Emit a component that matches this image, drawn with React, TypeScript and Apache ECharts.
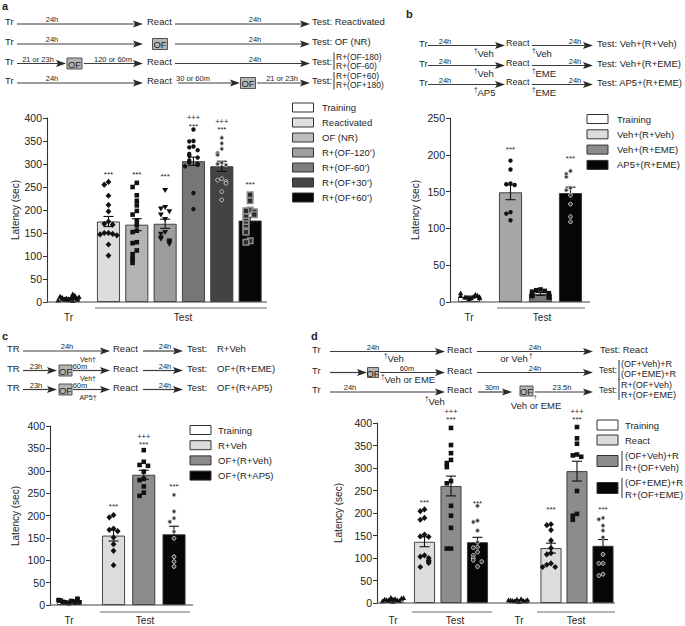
import React, { useEffect, useRef } from "react";
import * as echarts from "echarts";

const FONT = "'Liberation Sans', Arial, Helvetica, sans-serif";
const INK = "#1e1e1e";

// ================= Panel a data =================
const aTrCategory = ["Tr"];
const aTrMean = [8];
const aTrSem = [1.2];
const aTrPoints = [[4, 6, 9, 12, 17, 8, 5, 10, 7, 14, 11, 3, 6, 9, 13, 8, 5, 2, 7, 10]];
const aTestCategories = ["Reactivated", "OF (NR)", "R+(OF-120’)", "R+(OF-60’)", "R+(OF+30’)", "R+(OF+60’)"];
const aTestMeans = [175, 168, 170, 306, 295, 177];
const aTestSems = [11, 13, 10, 9, 11, 7];
const aTestPoints = [
  [261, 255, 231, 211, 197, 175, 170, 168, 150, 150, 148, 147, 145, 125, 101],
  [259, 250, 232, 220, 210, 198, 190, 177, 167, 155, 152, 130, 128, 112, 104, 95, 92, 85],
  [243, 206, 203, 197, 190, 180, 152, 148, 140, 137, 133, 130, 126],
  [375, 350, 349, 338, 336, 330, 322, 318, 314, 308, 303, 300, 298, 295, 237, 202],
  [357, 345, 333, 324, 320, 303, 300, 298, 268, 265, 262, 258, 240, 222],
  [233, 220, 200, 198, 196, 190, 185, 176, 170, 163, 155, 152, 133, 130],
];
const aStars = ["***", "***", "***", "***", "***", "***"];
const aPluses = ["", "", "", "+++", "+++", ""];
const aStarsAt = [280, 280, 277, 385, 378, 258];
const aLegendLabels = ["Training", ...aTestCategories];

// ================= Panel b data =================
const bTrCategory = ["Tr"];
const bTrMean = [7];
const bTrSem = [1];
const bTrPoints = [[4, 6, 7, 8, 9, 12, 6, 5, 8, 10, 7, 5]];
const bTestCategories = ["Veh+(R+Veh)", "Veh+(R+EME)", "AP5+(R+EME)"];
const bTestMeans = [149, 11, 148];
const bTestSems = [10, 2, 8];
const bTestPoints = [
  [192, 180, 161, 160, 159, 122, 120, 111],
  [17, 16, 15, 14, 12, 10, 9, 8, 7, 6],
  [178, 174, 170, 155, 152, 145, 133, 116, 109],
];
const bStars = ["***", "", "***"];
const bPluses = ["", "", ""];
const bStarsAt = [209, 0, 197];
const bLegendLabels = ["Training", ...bTestCategories];

// ================= Panel c data =================
const cTrCategory = ["Tr"];
const cTrMean = [8];
const cTrSem = [1];
const cTrPoints = [[4, 6, 8, 10, 12, 14, 9, 7, 5, 11, 6]];
const cTestCategories = ["R+Veh", "OF+(R+Veh)", "OF+(R+AP5)"];
const cTestMeans = [155, 291, 158];
const cTestSems = [12, 10, 18];
const cTestPoints = [
  [201, 196, 171, 168, 165, 151, 136, 121, 89],
  [346, 320, 313, 311, 298, 282, 279, 265, 251, 244],
  [246, 209, 194, 186, 164, 149, 108, 97, 86],
];
const cStars = ["***", "***", "***"];
const cPluses = ["", "+++", ""];
const cStarsAt = [223, 362, 268];
const cLegendLabels = ["Training", ...cTestCategories];

// ================= Panel d data =================
const dTrCategory = ["Tr"];
const dTr1Mean = [7];
const dTr1Sem = [1];
const dTr1Points = [[3, 5, 6, 8, 10, 12, 9, 7, 5, 4, 11, 8, 6]];
const dTr2Mean = [6];
const dTr2Sem = [1];
const dTr2Points = [[2, 4, 5, 6, 7, 8, 9, 5, 4, 6]];
const dTestCategories = ["React", "OF+Veh", "OF+EME"];
const dTest1Means = [136, 260, 135];
const dTest1Sems = [11, 22, 11];
const dTest1Points = [
  [208, 204, 189, 185, 152, 148, 147, 106, 103, 100, 95, 93, 89, 80],
  [389, 351, 333, 318, 311, 302, 271, 266, 216, 194, 167, 121, 121],
  [216, 183, 180, 161, 135, 124, 123, 113, 106, 100, 95, 92, 81],
];
const dTest2Means = [122, 293, 127];
const dTest2Sems = [11, 22, 14];
const dTest2Points = [
  [175, 173, 162, 139, 122, 111, 108, 88, 85, 80, 80],
  [391, 366, 354, 330, 328, 325, 249, 198, 194, 185],
  [189, 186, 172, 161, 146, 108, 88, 88, 64, 61],
];
const dStars1 = ["***", "***", "***"];
const dPluses1 = ["", "+++", ""];
const dStarsAt1 = [227, 411, 225];
const dStars2 = ["***", "***", "***"];
const dPluses2 = ["", "+++", ""];
const dStarsAt2 = [211, 411, 211];
const dLegendLabels: (string | string[])[] = ["Training", "React", ["(OF+Veh)+R", "R+(OF+Veh)"], ["(OF+EME)+R", "R+(OF+EME)"]];

// ================= styles =================
const WHITE = "#ffffff";
const aBarColors = ["#dddddd", "#b3b3b3", "#9c9c9c", "#767676", "#434343", "#070707"];
const aLegendColors = ["#ffffff", "#e0e0e0", "#bdbdbd", "#a0a0a0", "#7d7d7d", "#474747", "#080808"];
const aMarkers = ["diamond", "square", "triDown", "circle", "ring", "graySquare"];
const bBarColors = ["#a6a6a6", "#7a7a7a", "#060606"];
const bLegendColors = ["#ffffff", "#dcdcdc", "#8c8c8c", "#060606"];
const bMarkers = ["circle", "square", "ring"];
const cBarColors = ["#dcdcdc", "#8c8c8c", "#060606"];
const cLegendColors = ["#ffffff", "#dcdcdc", "#8c8c8c", "#060606"];
const cMarkers = ["diamond", "square", "ring"];
const dBarColors = ["#dcdcdc", "#8c8c8c", "#060606"];
const dLegendColors = ["#ffffff", "#dcdcdc", "#8c8c8c", "#060606"];
const dMarkers = ["diamond", "square", "ring"];

// ================= helpers =================
function jitterIndex(vals: number[], thr: number): number[] {
  const pattern = [0, -1, 1, -2, 2, -0.5, 0.5, -1.5, 1.5, -2.5, 2.5];
  return vals.map((v, i) => {
    let k = 0;
    for (let j = 0; j < i; j++) if (Math.abs(vals[j] - v) < thr) k++;
    return pattern[k % pattern.length];
  });
}

function marker(kind: string, x: number, y: number): any {
  const k = "#111";
  switch (kind) {
    case "diamond":
      return { type: "polygon", shape: { points: [[x, y - 3.1], [x + 2.9, y], [x, y + 3.1], [x - 2.9, y]] }, style: { fill: k } };
    case "square":
      return { type: "rect", shape: { x: x - 2.3, y: y - 2.3, width: 4.6, height: 4.6 }, style: { fill: k } };
    case "triDown":
      return { type: "polygon", shape: { points: [[x - 3, y - 2.2], [x + 3, y - 2.2], [x, y + 2.8]] }, style: { fill: k } };
    case "tri":
      return { type: "polygon", shape: { points: [[x - 2.7, y + 2], [x + 2.7, y + 2], [x, y - 2.7]] }, style: { fill: k } };
    case "circle":
      return { type: "circle", shape: { cx: x, cy: y, r: 2.2 }, style: { fill: k } };
    case "ring":
      return { type: "circle", shape: { cx: x, cy: y, r: 1.9 }, style: { fill: "#3a3a3a", stroke: "#c8c8c8", lineWidth: 1 } };
    case "graySquare":
    default:
      return { type: "rect", shape: { x: x - 2.8, y: y - 2.8, width: 5.6, height: 5.6 }, style: { fill: "#2a2a2a", stroke: "#8c8c8c", lineWidth: 1.5 } };
  }
}

function txt(x: number, y: number, text: string, o: any = {}): any {
  const align = o.align ?? "left";
  return {
    type: "text",
    x,
    y,
    rotation: o.rotation ?? 0,
    z: 20,
    silent: true,
    style: {
      text,
      fill: o.color ?? INK,
      fontSize: o.size ?? 9.5,
      fontFamily: FONT,
      fontWeight: o.bold ? "bold" : "normal",
      align,
      verticalAlign: "middle",
      textAlign: align,
      textVerticalAlign: "middle",
    },
  };
}

function hline(x1: number, x2: number, y: number, stroke = "#444", lw = 1.2): any {
  return { type: "line", z: 15, silent: true, shape: { x1, y1: y, x2, y2: y }, style: { stroke, lineWidth: lw } };
}
function vline(x: number, y1: number, y2: number, stroke = "#333", lw = 1): any {
  return { type: "line", z: 15, silent: true, shape: { x1: x, y1, x2: x, y2 }, style: { stroke, lineWidth: lw } };
}

function arrow(x1: number, x2: number, y: number, label?: string, lx?: number): any[] {
  const els: any[] = [
    hline(x1, x2 - 8, y, "#3c3c3c", 1.2),
    { type: "polygon", z: 15, silent: true, shape: { points: [[x2 - 10, y - 3.6], [x2, y], [x2 - 10, y + 3.6], [x2 - 8, y]] }, style: { fill: "#2a2a2a" } },
  ];
  if (label) els.push(txt(lx ?? (x1 + x2) / 2, y - 4.5, label, { size: 7.5, align: "center" }));
  return els;
}

function ofBox(cx: number, cy: number, w = 15, h = 11): any[] {
  return [
    { type: "rect", z: 15, silent: true, shape: { x: cx - w / 2, y: cy - h / 2, width: w, height: h }, style: { fill: "#b4b4b4", stroke: "#555", lineWidth: 1 } },
    txt(cx, cy + 0.5, "OF", { size: 9.5, align: "center" }),
  ];
}

function dagger(x: number, y: number, label: string, size = 9.5): any[] {
  return [txt(x, y - 3, "†", { size: 6.5 }), txt(x + 3.5, y, label, { size })];
}

function legendSimple(x: number, y0: number, step: number, labels: string[], colors: string[], tx: number, bh = 9): any[] {
  const els: any[] = [];
  labels.forEach((l, i) => {
    const y = y0 + i * step;
    els.push({ type: "rect", z: 15, silent: true, shape: { x, y: y - bh / 2, width: 21, height: bh }, style: { fill: colors[i], stroke: "#333", lineWidth: 1 } });
    els.push(txt(tx, y, l, { size: 9.5 }));
  });
  return els;
}

interface Section {
  left: number;
  width: number;
  barWidth: number;
  cats: string[];
  means: number[];
  sems: number[];
  pts: number[][];
  colors: string[];
  markers: string[];
  stars?: string[];
  pluses?: string[];
  starsAt?: number[];
}

function addPanel(opt: any, top: number, bottom: number, yMax: number, yStep: number, sections: Section[]) {
  const thr = (yMax * 4.2) / (bottom - top);
  sections.forEach((s, si) => {
    const gi = opt.grid.length;
    opt.grid.push({ left: s.left, top, width: s.width, height: bottom - top });
    opt.xAxis.push({ type: "category", gridIndex: gi, data: s.cats, show: false });
    opt.yAxis.push({
      type: "value",
      gridIndex: gi,
      min: 0,
      max: yMax,
      interval: yStep,
      show: si === 0,
      axisLine: { show: true, lineStyle: { color: "#333", width: 1.1 } },
      axisTick: { show: true, length: 4, lineStyle: { color: "#333", width: 1 } },
      axisLabel: { fontSize: 10.5, color: "#222", margin: 5, fontFamily: FONT },
      splitLine: { show: false },
    });
    opt.series.push({
      type: "bar",
      xAxisIndex: gi,
      yAxisIndex: gi,
      barWidth: s.barWidth,
      silent: true,
      z: 2,
      data: s.means.map((m, i) => ({ value: m, itemStyle: { color: s.colors[i], borderColor: "#333", borderWidth: 0.9 } })),
    });
    opt.series.push({
      type: "custom",
      xAxisIndex: gi,
      yAxisIndex: gi,
      clip: false,
      silent: true,
      z: 3,
      data: s.means.map((m, i) => [i, m, s.sems[i]]),
      renderItem: (_p: any, api: any) => {
        const i = api.value(0);
        const m = api.value(1);
        const e = api.value(2);
        const t = api.coord([i, m + e]);
        const b = api.coord([i, m - e]);
        const hw = 5;
        const st = { stroke: "#111", lineWidth: 1.1 };
        return {
          type: "group",
          children: [
            { type: "line", shape: { x1: t[0], y1: t[1], x2: b[0], y2: b[1] }, style: st },
            { type: "line", shape: { x1: t[0] - hw, y1: t[1], x2: t[0] + hw, y2: t[1] }, style: st },
            { type: "line", shape: { x1: b[0] - hw, y1: b[1], x2: b[0] + hw, y2: b[1] }, style: st },
          ],
        };
      },
    });
    const pdata: number[][] = [];
    s.pts.forEach((arr, i) => {
      const jit = jitterIndex(arr, thr);
      arr.forEach((v, k) => pdata.push([i, v, jit[k]]));
    });
    opt.series.push({
      type: "custom",
      xAxisIndex: gi,
      yAxisIndex: gi,
      clip: false,
      silent: true,
      z: 4,
      data: pdata,
      renderItem: (_p: any, api: any) => {
        const i = api.value(0);
        const c = api.coord([i, api.value(1)]);
        return marker(s.markers[i], c[0] + api.value(2) * 4.2, c[1]);
      },
    });
    if (s.stars && s.starsAt) {
      const sd: number[][] = [];
      s.stars.forEach((st, i) => {
        if (st) sd.push([i, s.starsAt![i]]);
      });
      opt.series.push({
        type: "custom",
        xAxisIndex: gi,
        yAxisIndex: gi,
        clip: false,
        silent: true,
        z: 5,
        data: sd,
        renderItem: (_p: any, api: any) => {
          const i = api.value(0);
          const c = api.coord([i, api.value(1)]);
          const mk = (t: string, y: number, size: number) => ({
            type: "text",
            x: c[0],
            y,
            style: { text: t, fill: INK, fontSize: size, fontFamily: FONT, align: "center", verticalAlign: "middle", textAlign: "center", textVerticalAlign: "middle" },
          });
          const ch: any[] = [mk(s.stars![i], c[1] + 1.5, 8)];
          if (s.pluses && s.pluses[i]) ch.push(mk(s.pluses[i], c[1] - 7, 7.5));
          return { type: "group", children: ch };
        },
      });
    }
  });
}

function buildOption() {
  const opt: any = { animation: false, grid: [], xAxis: [], yAxis: [], series: [], graphic: { elements: [] } };
  const G: any[] = opt.graphic.elements;

  // ---------- Panel a ----------
  addPanel(opt, 118, 302, 400, 50, [
    { left: 47, width: 43, barWidth: 23, cats: aTrCategory, means: aTrMean, sems: aTrSem, pts: aTrPoints, colors: [WHITE], markers: ["tri"] },
    {
      left: 94.3, width: 170, barWidth: 23, cats: aTestCategories, means: aTestMeans, sems: aTestSems, pts: aTestPoints,
      colors: aBarColors, markers: aMarkers, stars: aStars, pluses: aPluses, starsAt: aStarsAt,
    },
  ]);
  G.push(hline(47, 267, 302, "#444", 1.2));
  G.push(hline(95, 267, 308, "#9a9a9a", 1.6));
  G.push(txt(68.5, 317, "Tr", { size: 10, align: "center" }));
  G.push(txt(183, 317, "Test", { size: 10, align: "center" }));
  G.push(txt(15, 210, "Latency (sec)", { size: 10, align: "center", rotation: Math.PI / 2 }));
  G.push(...legendSimple(292.5, 107.5, 15, aLegendLabels, aLegendColors, 322));

  // schematic a
  G.push(txt(2, 6, "a", { size: 11, bold: true }));
  const aRows = [24, 44, 63.5, 83];
  aRows.forEach((ly) => G.push(txt(5, ly - 2.5, "Tr")));
  // row 1
  G.push(...arrow(17, 143, aRows[0], "24h", 52));
  G.push(txt(147, aRows[0] - 2.5, "React"));
  G.push(...arrow(175, 310, aRows[0], "24h", 255));
  G.push(txt(312, aRows[0] - 2.5, "Test: Reactivated"));
  // row 2
  G.push(...arrow(17, 143, aRows[1], "24h", 52));
  G.push(...ofBox(160, aRows[1]));
  G.push(...arrow(175, 310, aRows[1], "24h", 255));
  G.push(txt(312, aRows[1] - 2.5, "Test: OF (NR)"));
  // row 3
  G.push(...arrow(17, 66, aRows[2], "21 or 23h", 38));
  G.push(...ofBox(74.5, aRows[2]));
  G.push(...arrow(84, 143, aRows[2], "120 or 60m", 113));
  G.push(txt(147, aRows[2] - 2.5, "React"));
  G.push(...arrow(175, 310, aRows[2], "24h", 255));
  G.push(txt(312, aRows[2] - 2.5, "Test:"));
  G.push(vline(334, aRows[2] - 11, aRows[2] + 6.5));
  G.push(txt(336, aRows[2] - 6.8, "R+(OF-180)", { size: 8.5 }));
  G.push(txt(336, aRows[2] + 2.4, "R+(OF-60)", { size: 8.5 }));
  // row 4
  G.push(...arrow(17, 143, aRows[3], "24h", 52));
  G.push(txt(147, aRows[3] - 2.5, "React"));
  G.push(...arrow(178, 240, aRows[3], "30 or 60m", 193));
  G.push(...ofBox(248, aRows[3]));
  G.push(...arrow(257, 310, aRows[3], "21 or 23h", 282));
  G.push(txt(312, aRows[3] - 2.5, "Test:"));
  G.push(vline(334, aRows[3] - 11, aRows[3] + 6.5));
  G.push(txt(336, aRows[3] - 6.8, "R+(OF+60)", { size: 8.5 }));
  G.push(txt(336, aRows[3] + 2.4, "R+(OF+180)", { size: 8.5 }));

  // ---------- Panel b ----------
  addPanel(opt, 118, 302, 250, 50, [
    { left: 450, width: 38, barWidth: 22, cats: bTrCategory, means: bTrMean, sems: bTrSem, pts: bTrPoints, colors: [WHITE], markers: ["tri"] },
    {
      left: 495.5, width: 90, barWidth: 23, cats: bTestCategories, means: bTestMeans, sems: bTestSems, pts: bTestPoints,
      colors: bBarColors, markers: bMarkers, stars: bStars, pluses: bPluses, starsAt: bStarsAt,
    },
  ]);
  G.push(hline(450, 590, 302, "#444", 1.2));
  G.push(hline(497, 585, 308, "#9a9a9a", 1.6));
  G.push(txt(469, 317, "Tr", { size: 10, align: "center" }));
  G.push(txt(542, 317, "Test", { size: 10, align: "center" }));
  G.push(txt(415, 210, "Latency (sec)", { size: 10, align: "center", rotation: Math.PI / 2 }));
  G.push(...legendSimple(587, 119, 15.3, bLegendLabels, bLegendColors, 617));

  G.push(txt(406, 14, "b", { size: 11, bold: true }));
  const bRows = [45.5, 65.5, 84.5];
  const bTests = ["Test: Veh+(R+Veh)", "Test: Veh+(R+EME)", "Test: AP5+(R+EME)"];
  const bPre = ["Veh", "Veh", "AP5"];
  const bPost = ["Veh", "EME", "EME"];
  bRows.forEach((ly, r) => {
    G.push(txt(419, ly - 2.5, "Tr"));
    G.push(...arrow(428, 505, ly, "24h", 445));
    G.push(txt(506, ly - 2.5, "React", { size: 9 }));
    G.push(...arrow(532, 593, ly, "24h", 575));
    G.push(txt(597, ly - 2.5, bTests[r]));
    G.push(...dagger(474, ly + 7.5, bPre[r]));
    G.push(...dagger(532, ly + 8, bPost[r]));
  });

  // ---------- Panel c ----------
  addPanel(opt, 426, 605, 400, 50, [
    { left: 50, width: 38, barWidth: 24, cats: cTrCategory, means: cTrMean, sems: cTrSem, pts: cTrPoints, colors: [WHITE], markers: ["square"] },
    {
      left: 98.4, width: 90.75, barWidth: 23, cats: cTestCategories, means: cTestMeans, sems: cTestSems, pts: cTestPoints,
      colors: cBarColors, markers: cMarkers, stars: cStars, pluses: cPluses, starsAt: cStarsAt,
    },
  ]);
  G.push(hline(50, 193, 605, "#444", 1.2));
  G.push(hline(100, 190, 612, "#9a9a9a", 1.6));
  G.push(txt(69, 620, "Tr", { size: 10, align: "center" }));
  G.push(txt(145, 620, "Test", { size: 10, align: "center" }));
  G.push(txt(15, 516, "Latency (sec)", { size: 10, align: "center", rotation: Math.PI / 2 }));
  G.push(...legendSimple(190, 430, 15.2, cLegendLabels, cLegendColors, 218));

  G.push(txt(2, 336, "c", { size: 11, bold: true }));
  const cRows = [351, 370.5, 389.5];
  const cTests = ["R+Veh", "OF+(R+EME)", "OF+(R+AP5)"];
  cRows.forEach((ly, r) => {
    G.push(txt(7, ly - 2.5, "TR"));
    if (r === 0) {
      G.push(...arrow(23, 110, ly, "24h", 67));
    } else {
      G.push(...arrow(23, 57, ly, "23h", 36));
      G.push(...ofBox(65.5, ly, 13, 11));
      G.push(...arrow(73, 110, ly, "60m", 80));
    }
    G.push(txt(113, ly - 2.5, "React"));
    G.push(...arrow(143, 183, ly, "24h", 165));
    G.push(txt(187, ly - 2.5, "Test:"));
    G.push(txt(217, ly - 2.5, cTests[r]));
  });
  G.push(txt(88, 359, "Veh†", { size: 7, align: "center" }));
  G.push(txt(88, 378.5, "Veh†", { size: 7, align: "center" }));
  G.push(txt(88, 397.5, "AP5†", { size: 7, align: "center" }));

  // ---------- Panel d ----------
  addPanel(opt, 423, 603, 400, 50, [
    { left: 377, width: 32, barWidth: 21, cats: dTrCategory, means: dTr1Mean, sems: dTr1Sem, pts: dTr1Points, colors: [WHITE], markers: ["tri"] },
    {
      left: 411.25, width: 79.5, barWidth: 21, cats: dTestCategories, means: dTest1Means, sems: dTest1Sems, pts: dTest1Points,
      colors: dBarColors, markers: dMarkers, stars: dStars1, pluses: dPluses1, starsAt: dStarsAt1,
    },
    { left: 503, width: 32, barWidth: 21, cats: dTrCategory, means: dTr2Mean, sems: dTr2Sem, pts: dTr2Points, colors: [WHITE], markers: ["tri"] },
    {
      left: 538, width: 78, barWidth: 21, cats: dTestCategories, means: dTest2Means, sems: dTest2Sems, pts: dTest2Points,
      colors: dBarColors, markers: dMarkers, stars: dStars2, pluses: dPluses2, starsAt: dStarsAt2,
    },
  ]);
  G.push(hline(377, 615, 603, "#444", 1.2));
  G.push(hline(412, 492, 612, "#9a9a9a", 1.6));
  G.push(hline(537, 615, 612, "#9a9a9a", 1.6));
  G.push(txt(393, 620, "Tr", { size: 10, align: "center" }));
  G.push(txt(455, 620, "Test", { size: 10, align: "center" }));
  G.push(txt(519, 620, "Tr", { size: 10, align: "center" }));
  G.push(txt(576, 620, "Test", { size: 10, align: "center" }));
  G.push(txt(338, 513, "Latency (sec)", { size: 10, align: "center", rotation: Math.PI / 2 }));
  // legend d
  G.push(...legendSimple(597, 425, 15, dLegendLabels.slice(0, 2) as string[], dLegendColors.slice(0, 2), 625, 10));
  [2, 3].forEach((i, k) => {
    const y = k === 0 ? 461 : 488;
    G.push({ type: "rect", z: 15, silent: true, shape: { x: 597, y: y - 5.5, width: 21, height: 11 }, style: { fill: dLegendColors[i], stroke: "#333", lineWidth: 1 } });
    G.push(vline(622, y - 10, y + 10, "#333", 1));
    const lines = dLegendLabels[i] as string[];
    G.push(txt(625, y - 6, lines[0]));
    G.push(txt(625, y + 6, lines[1]));
  });

  G.push(txt(311, 336, "d", { size: 11, bold: true }));
  const dRows = [351.5, 372.5, 392];
  dRows.forEach((ly) => G.push(txt(312, ly - 2.5, "Tr")));
  // row 1
  G.push(...arrow(330, 445, dRows[0], "24h", 373));
  G.push(...dagger(384, dRows[0] + 7, "Veh"));
  G.push(txt(447, dRows[0] - 2.5, "React"));
  G.push(...arrow(477, 593, dRows[0], "24h", 535));
  G.push(txt(514, dRows[0] + 7, "or Veh", { align: "center" }));
  G.push(txt(529, dRows[0] + 3.5, "†", { size: 6.5 }));
  G.push(txt(600, dRows[0] - 2.5, "Test: React"));
  // row 2
  G.push(...arrow(330, 367, dRows[1]));
  G.push(...ofBox(373, dRows[1], 11, 10));
  G.push(...arrow(380, 445, dRows[1], "60m", 407));
  G.push(...dagger(381, dRows[1] + 6.5, "Veh or EME"));
  G.push(txt(447, dRows[1] - 2.5, "React"));
  G.push(...arrow(477, 593, dRows[1], "24h", 535));
  G.push(txt(599, dRows[1] - 2.5, "Test:", { size: 8.5 }));
  G.push(vline(619, dRows[1] - 12.5, dRows[1] + 7.5));
  G.push(txt(621, dRows[1] - 8.5, "(OF+Veh)+R", { size: 9 }));
  G.push(txt(621, dRows[1] + 1.5, "(OF+EME)+R", { size: 9 }));
  // row 3
  G.push(...arrow(330, 445, dRows[2], "24h", 350));
  G.push(...dagger(425, dRows[2] + 9.5, "Veh"));
  G.push(txt(447, dRows[2] - 2.5, "React"));
  G.push(...arrow(478, 512, dRows[2], "30m", 492));
  G.push(...ofBox(526.5, dRows[2] - 1, 13, 10));
  G.push(...arrow(535, 593, dRows[2], "23.5h", 562));
  G.push(txt(533.5, dRows[2] + 4.5, "†", { size: 6 }));
  G.push(txt(536, dRows[2] + 13, "Veh or EME", { align: "center" }));
  G.push(txt(599, dRows[2] - 2.5, "Test:", { size: 8.5 }));
  G.push(vline(619, dRows[2] - 13, dRows[2] + 8));
  G.push(txt(621, dRows[2] - 7.5, "R+(OF+Veh)", { size: 9 }));
  G.push(txt(621, dRows[2] + 2.5, "R+(OF+EME)", { size: 9 }));

  return opt;
}

export default function App() {
  const ref = useRef<HTMLDivElement>(null);
  useEffect(() => {
    if (!ref.current) return;
    const chart = echarts.init(ref.current, null, { renderer: "svg" });
    chart.setOption(buildOption());
    return () => chart.dispose();
  }, []);
  return (
    <div
      ref={ref}
      style={{ position: "absolute", left: 0, top: 0, width: 685, height: 626, background: "#ffffff" }}
    />
  );
}
